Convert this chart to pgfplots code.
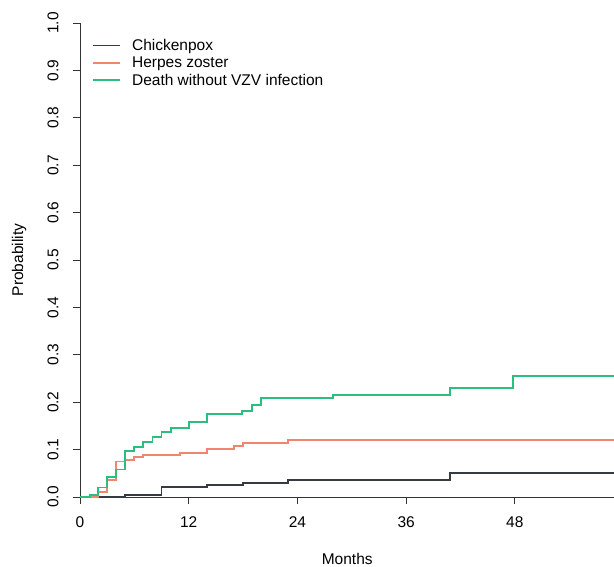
\documentclass[border=0pt]{standalone}
\usepackage{fontspec}
\setmainfont{Liberation Sans}
\usepackage{pgfplots}
\pgfplotsset{compat=1.18}
\definecolor{cpox}{HTML}{363B42}
\definecolor{hzos}{HTML}{F0866F}
\definecolor{death}{HTML}{2DBE7F}

\begin{document}
\begin{tikzpicture}
\begin{axis}[
  name=ax, at={(0,0)}, anchor=origin,
  scale only axis, width=534.5bp, height=474bp,
  xmin=0, xmax=59, ymin=0, ymax=1,
  axis lines=left, axis line style={-, line width=0.9bp, black!80},
  xtick={0,12,24,36,48},
  ytick={0,0.1,...,1.01},
  tick align=outside, major tick length=7bp,
  tick style={line width=0.9bp, black!80},
  font=\fontsize{15.5bp}{18bp}\selectfont,
  /pgf/number format/assume math mode=true,
  yticklabel style={rotate=90, anchor=south, /pgf/number format/.cd, fixed, fixed zerofill, precision=1},
  yticklabel shift=11bp, xticklabel shift=9bp,
  xlabel={Months}, ylabel={Probability},
  xlabel style={at={(axis description cs:0.5,0)}, anchor=north, inner sep=0pt, yshift=-56bp},
  ylabel style={at={(axis description cs:0,0.5)}, anchor=center, yshift=61bp},
  clip=false,
  legend style={draw=none, fill=none, at={(rel axis cs:0,1)}, anchor=north west,
    xshift=9bp, yshift=-12bp, row sep=1bp, font=\fontsize{15.5bp}{18bp}\selectfont},
  legend cell align=left,
  legend image code/.code={\draw[#1] (0bp,0bp) -- (27bp,0bp); \path (36bp,0bp);},
  every axis plot/.append style={line width=1.9bp},
]
\addplot[cpox, const plot] coordinates {
  (0,0) (5.0,0.005) (9.0,0.021) (14.0,0.025) (18.0,0.029) (23.0,0.036)
  (40.8,0.051) (59,0.051)};
\addlegendentry{Chickenpox}
\addplot[hzos, const plot] coordinates {
  (0,0) (2.0,0.010) (3.0,0.035) (4.0,0.075) (5.0,0.078) (6.0,0.084) (7.0,0.088)
  (11.0,0.093) (14.0,0.102) (17.0,0.108) (18.0,0.114) (23.0,0.121) (59,0.121)};
\addlegendentry{Herpes zoster}
\addplot[death, const plot] coordinates {
  (0,0) (1.1,0.004) (2.0,0.020) (3.0,0.043) (4.0,0.058) (5.0,0.097) (6.0,0.105)
  (7.0,0.116) (8.0,0.126) (9.0,0.137) (10.0,0.145) (12.0,0.159) (14.0,0.176)
  (17.9,0.181) (19.0,0.195) (20.0,0.209) (27.9,0.216) (40.8,0.230) (47.8,0.255) (59,0.255)};
\addlegendentry{Death without VZV infection}
\end{axis}
\pgfresetboundingbox
\path[use as bounding box] (-80bp,-70bp) rectangle (534bp,497bp);
\end{tikzpicture}
\end{document}
